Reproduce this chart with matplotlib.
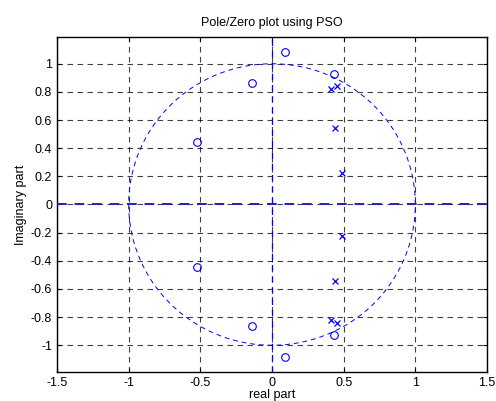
import numpy as np
import matplotlib
matplotlib.use("Agg")
import matplotlib.pyplot as plt

plt.rcParams['font.family'] = ['Liberation Sans', 'DejaVu Sans']

# Zeros (o) and poles (x)
zero_re = [0.09, 0.09, -0.14, -0.14, -0.52, -0.52, 0.43, 0.43]
zero_im = [1.08, -1.08, 0.865, -0.865, 0.447, -0.447, 0.925, -0.925]
pole_re = [0.41, 0.41, 0.45, 0.45, 0.44, 0.44, 0.49, 0.49]
pole_im = [0.82, -0.82, 0.845, -0.845, 0.545, -0.545, 0.225, -0.225]

xticks = [-1.5, -1, -0.5, 0, 0.5, 1, 1.5]
xticklabels = ['-1.5', '-1', '-0.5', '0', '0.5', '1', '1.5']
yticks = [-1, -0.8, -0.6, -0.4, -0.2, 0, 0.2, 0.4, 0.6, 0.8, 1]
yticklabels = ['-1', '-0.8', '-0.6', '-0.4', '-0.2', '0', '0.2', '0.4', '0.6', '0.8', '1']

fig = plt.figure(figsize=(4.96, 4.01), dpi=100)
ax = fig.add_axes([57/496, 1-372/401, 430/496, 335/401])

ax.set_xlim(-1.5, 1.5)
ax.set_ylim(-1.19, 1.19)

# grid
ax.set_xticks(xticks)
ax.set_xticklabels(xticklabels)
ax.set_yticks(yticks)
ax.set_yticklabels(yticklabels)
ax.grid(True, color='black', linestyle=(0, (5, 4)), linewidth=0.8, alpha=0.75)

# unit circle
t = np.linspace(0, 2*np.pi, 400)
ax.plot(np.cos(t), np.sin(t), color='blue', linestyle=(0, (5, 4)), linewidth=0.7)
# axes lines
ax.axhline(0, color='#2020c0', linestyle=(0, (5, 4)), linewidth=1.4, zorder=3)
ax.axvline(0, color='blue', linestyle=(0, (5, 4)), linewidth=0.9, zorder=3)

ax.plot(zero_re, zero_im, linestyle='none', marker='o', markersize=5.5,
        markerfacecolor='none', markeredgecolor='blue', markeredgewidth=0.8)
ax.plot(pole_re, pole_im, linestyle='none', marker='x', markersize=5,
        color='blue', markeredgewidth=0.9)

ax.tick_params(direction='in', length=3, top=True, right=True, labelsize=9, width=0.8)
for s in ax.spines.values():
    s.set_linewidth(1.0)

ax.set_title('Pole/Zero plot using PSO', fontsize=9, pad=8)
ax.set_xlabel('real part', fontsize=9, labelpad=0)
ax.set_ylabel('Imaginary part', fontsize=9, labelpad=3)

fig.savefig('out.png', dpi=100)
